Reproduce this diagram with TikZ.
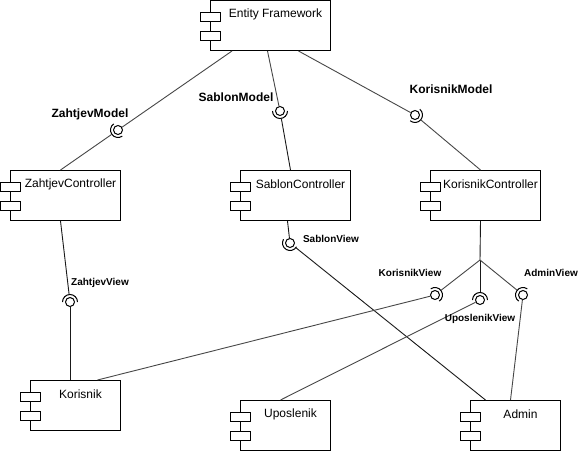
\documentclass[tikz,border=0pt]{standalone}
\usepackage{fontspec}
\setmainfont{Liberation Sans}
\usetikzlibrary{calc}
\tikzset{
 compbox/.style={draw, line width=1pt, fill=white, anchor=north west, inner sep=0pt},
 jetty/.style={draw, line width=1pt, fill=white},
 ctext/.style={font=\fontsize{12}{14}\selectfont, inner sep=0pt},
 mlabel/.style={font=\bfseries\fontsize{12}{14}\selectfont, inner sep=0pt},
 vlabel/.style={font=\bfseries\fontsize{10}{12}\selectfont, inner sep=0pt},
 ball/.style={circle, draw, line width=1pt, minimum size=9pt, inner sep=0pt, fill=white},
 sockzone/.style={circle, minimum size=15pt, inner sep=0pt},
 conn/.style={line width=0.9pt, draw=black!90},
 gconn/.style={line width=0.9pt, draw=black!72},
}
\newcommand\comp[6]{%
 \node[compbox, minimum width=#4pt, minimum height=#5pt] (#1) at (#2,#3) {};
 \draw[jetty] ($(#1.north west)+(-10,12)$) rectangle ++(20,9);
 \draw[jetty] ($(#1.north west)+(-10,31)$) rectangle ++(20,9);
 \node[ctext] (#1-t) at ($(#1.north)+(5,14)$) {#6};
}
\newcommand\lolli[4]{%
 \node[sockzone] (#1s) at (#2,#3) {};
 \node[ball] (#1) at (#2,#3) {};
 \pgfmathsetmacro\sa{-#4-90}
 \pgfmathsetmacro\ea{-#4+90}
 \draw[line width=1pt] ($(#1)+(\sa:7.5)$) arc[start angle=\sa, end angle=\ea, radius=7.5];
}
\begin{document}
\begin{tikzpicture}[x=1pt,y=-1pt]
\useasboundingbox (0,0) rectangle (581,452);
\fill[white] (0,0) rectangle (581,452);
% components
\comp{ef}{210}{0.5}{120}{49.5}{Entity Framework}
\comp{zc}{10}{170}{110}{50}{ZahtjevController}
\comp{sc}{240}{170}{110}{50}{SablonController}
\comp{kc}{430}{170}{110}{50}{KorisnikController}
\comp{ko}{30}{380}{90}{50}{Korisnik}
\comp{up}{240}{400}{90}{50}{Uposlenik}
\comp{ad}{470}{400}{90}{50}{Admin}
% interfaces
\lolli{zm}{118}{130}{215}
\lolli{sm}{280}{111}{270}
\lolli{km}{415}{115}{320}
\lolli{zv}{70}{302}{90}
\lolli{sv}{290}{243}{240}
\lolli{kv}{435}{295}{35}
\lolli{uv}{480}{300}{90}
\lolli{av}{523}{295}{145}
% connectors
\draw[gconn] ($(ef.south west)+(22,0)$) -- (zm);
\draw[gconn] (zms) -- ($(zc.north)+(-5,0)$);
\draw[gconn] ($(ef.south)+(-3,0)$) -- (sm);
\draw[conn] (sms) -- ($(sc.north)+(-5,0)$);
\draw[gconn] ($(ef.south)+(28,0)$) -- (km);
\draw[gconn] (kms) -- ($(kc.north)+(-5,0)$);
\draw[conn] ($(zc.south)+(-5,0)$) -- (zvs);
\draw[conn] (zv) -- (zv |- ko.north);
\draw[conn] ($(sc.south)+(-8,0)$) -- (sv);
\draw[conn] (svs) -- ($(ad.north)+(-30,0)$);
\coordinate (fork) at (480,260);
\draw[conn] ($(kc.south)+(-5,0)$) -- (fork);
\draw[gconn] (fork) -- (kvs);
\draw[conn] (fork) -- (uvs);
\draw[gconn] (fork) -- (avs);
\draw[gconn] (kv) -- ($(ko.north)+(22,0)$);
\draw[gconn] (uv) -- ($(up.north)+(-5,0)$);
\draw[gconn] (av) -- ($(ad.north)+(-5,0)$);
% labels
\node[mlabel] (zml) at (90,114) {ZahtjevModel};
\node[mlabel] (sml) at (236,97) {SablonModel};
\node[mlabel] (kml) at (451,89) {KorisnikModel};
\node[vlabel] (zvl) at (100,283) {ZahtjevView};
\node[vlabel] (svl) at (331,239) {SablonView};
\node[vlabel] (kvl) at (410,273) {KorisnikView};
\node[vlabel] (uvl) at (480,319) {UposlenikView};
\node[vlabel] (avl) at (551,273) {AdminView};
\end{tikzpicture}
\end{document}
